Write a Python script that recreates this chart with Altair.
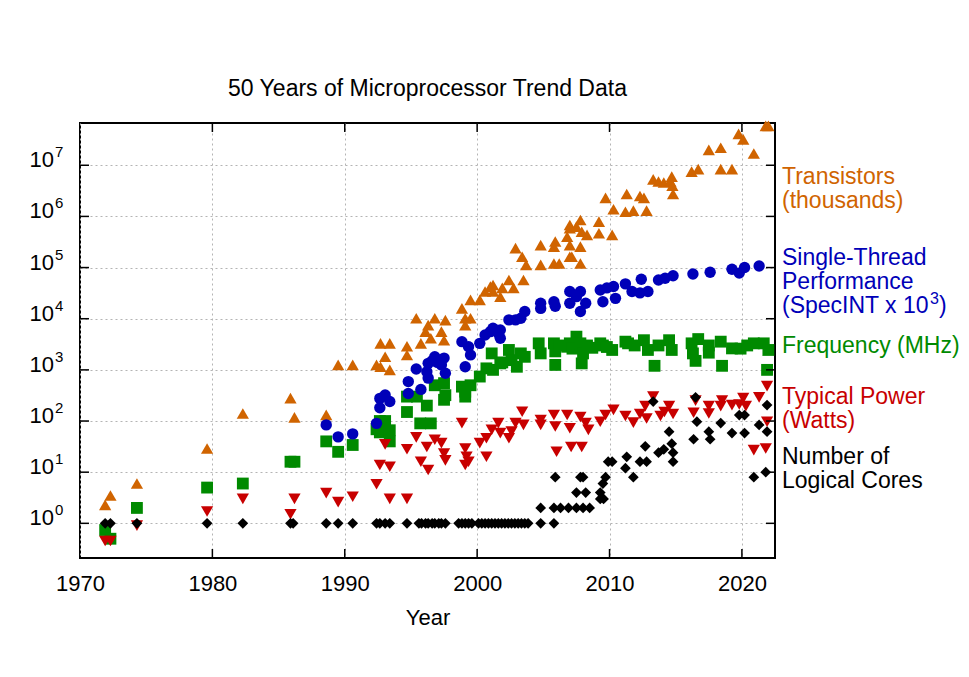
import altair as alt
import pandas as pd

FONT = "Liberation Sans"

# ---------------- data ----------------
tr_year = [1971.9, 1972.3, 1974.3, 1979.6, 1982.3, 1985.9, 1986.2, 1988.6, 1989.5, 1990.6,
           1992.4, 1992.7, 1992.7, 1993.05, 1993.4, 1993.4, 1994.7, 1994.7, 1995.4, 1995.75,
           1996.1, 1996.3, 1996.5, 1996.8, 1997.3, 1997.5, 1997.6, 1998.85, 1999.1, 1999.1,
           1999.5, 1999.5, 2000.2, 2000.6, 2001.0, 2001.2, 2001.2, 2001.75, 2001.9, 2002.4,
           2002.75, 2002.9, 2003.4, 2003.5, 2003.7, 2004.8, 2004.8, 2005.8, 2005.9, 2005.8,
           2006.2, 2006.8, 2007.0, 2007.0, 2007.0, 2007.0, 2007.15, 2007.5, 2007.8, 2007.8,
           2007.8, 2007.9, 2008.3, 2009.2, 2009.2, 2009.7, 2010.2, 2010.3, 2011.2, 2011.3,
           2011.8, 2012.3, 2012.6, 2012.8, 2013.3, 2013.7, 2014.1, 2014.6, 2014.7, 2014.75,
           2014.8, 2016.2, 2016.7, 2017.5, 2018.4, 2018.4, 2019.25, 2019.75, 2020.1, 2020.9,
           2021.8, 2022.0]
tr_val = [2.3, 3.5, 6.0, 29, 140, 280, 118, 132, 1250, 1250,
          1250, 3300, 1150, 1800, 3300, 1000, 2900, 1950, 10200, 3300,
          5600, 7500, 4150, 10200, 5600, 3800, 9400, 15900, 10200, 7500,
          10200, 23300, 23300, 34000, 42500, 34000, 45700, 27000, 40000, 57000,
          40000, 240000, 163000, 57000, 113000, 113000, 275000, 257000, 323000, 120000,
          120000, 400000, 275000, 163000, 590000, 680000, 163000, 630000, 257000, 120000,
          850000, 500000, 436000, 790000, 470000, 2300000, 436000, 1380000, 1230000, 2750000,
          1300000, 2500000, 2300000, 1300000, 5300000, 4800000, 4600000, 4800000, 6000000, 4000000,
          2750000, 7500000, 8400000, 20000000, 22000000, 8400000, 8400000, 41000000, 32000000, 17000000,
          59000000, 59000000]

st_year = [1988.6, 1989.5, 1990.6, 1992.4, 1992.65, 1992.65, 1993.05, 1993.4, 1994.8, 1994.8,
           1995.4, 1995.75, 1996.2, 1996.3, 1996.3, 1996.6, 1996.8, 1997.0, 1997.3, 1997.5,
           1997.6, 1998.85, 1999.35, 1999.5, 1999.1, 2000.2, 2000.6, 2001.0, 2001.2, 2001.6,
           2001.75, 2001.75, 2002.4, 2002.9, 2003.3, 2003.6, 2004.8, 2004.8, 2005.8, 2005.9,
           2007.0, 2007.0, 2007.5, 2007.8, 2008.2, 2007.8, 2009.3, 2009.5, 2009.8, 2010.3,
           2010.45, 2011.2, 2011.7, 2012.3, 2012.4, 2012.9, 2013.7, 2014.2, 2014.8, 2016.3,
           2017.6, 2019.25, 2019.8, 2020.2, 2021.3]
st_val = [84, 49, 56, 90, 182, 277, 323, 240, 590, 345,
          1040, 415, 920, 1340, 690, 1500, 1800, 1400, 1250, 1700,
          860, 3560, 2830, 1960, 1150, 3300, 4800, 5600, 6500, 5200,
          6000, 4150, 9500, 9500, 10200, 13800, 20000, 15900, 21500, 17500,
          34000, 20000, 27000, 34000, 20000, 13800, 36500, 21500, 40000, 42500,
          25000, 48000, 34000, 32000, 59000, 34000, 57000, 62000, 69000, 75000,
          81000, 93000, 78000, 100000, 107000]

fr_year = [1971.9, 1972.3, 1974.3, 1979.6, 1982.3, 1985.9, 1986.2, 1988.6, 1989.5, 1990.6,
           1992.4, 1992.65, 1992.65, 1993.05, 1993.4, 1993.4, 1994.7, 1994.7, 1995.45, 1996.2,
           1995.7, 1996.5, 1996.8, 1997.5, 1997.5, 1997.6, 1998.85, 1999.1, 1999.1, 1999.5,
           2000.2, 2000.7, 2001.1, 2001.2, 2001.75, 2001.9, 2002.4, 2002.6, 2003.0, 2003.3,
           2003.6, 2004.65, 2004.8, 2005.8, 2005.9, 2005.9, 2006.2, 2006.8, 2007.0, 2007.2,
           2007.5, 2007.8, 2007.9, 2008.0, 2008.3, 2008.7, 2009.3, 2009.5, 2009.8, 2010.2,
           2011.2, 2011.4, 2011.9, 2012.6, 2012.9, 2013.4, 2013.7, 2014.5, 2014.7, 2016.2,
           2016.3, 2016.5, 2016.7, 2017.5, 2017.5, 2018.4, 2018.5, 2019.25, 2019.9, 2020.4,
           2020.9, 2021.65, 2022.0, 2021.9]
fr_val = [0.74, 0.5, 2, 5, 6, 16, 16, 40, 25, 34,
          69, 100, 60, 100, 66, 40, 300, 150, 300, 200,
          90, 90, 500, 550, 260, 320, 470, 300, 375, 500,
          740, 1070, 2100, 1000, 1340, 1400, 2450, 1550, 1150, 2100,
          1800, 3300, 2100, 3300, 2300, 1250, 3000, 2830, 3300, 2600,
          4460, 3300, 1340, 2100, 3000, 2700, 3300, 3000, 2800, 2450,
          3560, 3300, 3000, 3800, 2450, 1200, 3000, 3800, 2450, 3300,
          2100, 1500, 4000, 2170, 3000, 3560, 1200, 2630, 2600, 3000,
          3300, 3300, 2450, 1000]

pw_year = [1971.9, 1972.3, 1974.3, 1979.6, 1982.3, 1985.9, 1986.2, 1988.6, 1989.5, 1990.6,
           1992.4, 1992.65, 1993.05, 1993.4, 1993.4, 1994.7, 1994.7, 1995.4, 1995.75, 1996.2,
           1996.3, 1996.8, 1997.3, 1997.5, 1997.6, 1998.85, 1999.1, 1999.2, 1999.35, 1999.1,
           2000.2, 2000.7, 2000.7, 2001.1, 2001.6, 2001.75, 2002.4, 2002.6, 2002.9, 2003.4,
           2003.5, 2004.8, 2004.8, 2005.8, 2005.9, 2006.0, 2006.8, 2007.0, 2007.1, 2007.8,
           2007.9, 2008.2, 2008.4, 2009.3, 2009.7, 2010.3, 2011.2, 2011.8, 2012.3, 2012.7,
           2012.8, 2013.3, 2013.85, 2014.15, 2014.5, 2014.8, 2016.35, 2016.5, 2017.5, 2017.5,
           2018.4, 2018.5, 2019.25, 2019.8, 2020.1, 2020.3, 2020.9, 2021.3, 2021.8, 2021.9,
           2021.9]
pw_val = [0.45, 0.45, 0.9, 1.7, 3, 1.5, 3, 3.9, 2.6, 3.3,
          5.8, 13.8, 35, 12.8, 3, 28, 3, 48, 16, 31,
          11, 43, 37, 23, 17, 91, 29, 20, 16, 13.8,
          37, 20, 46, 67, 91, 58, 46, 62, 91, 152,
          84, 105, 84, 131, 78, 25, 131, 72, 31, 120,
          31, 91, 67, 97, 131, 165, 125, 93, 137, 196,
          112, 300, 125, 150, 196, 137, 145, 250, 196, 140,
          196, 250, 205, 210, 280, 196, 27, 290, 29, 480,
          97]

co_year = [1971.9, 1972.3, 1974.3, 1979.6, 1982.3, 1985.9, 1986.1, 1988.6, 1989.5, 1990.6,
           1992.4, 1992.65, 1993.05, 1993.4, 1994.7, 1995.6, 1995.8, 1996.1, 1996.3, 1996.6,
           1996.8, 1997.1, 1997.3, 1997.6, 1998.6, 1998.85, 1999.1, 1999.35, 1999.6, 2000.1,
           2000.35, 2000.6, 2000.85, 2001.1, 2001.35, 2001.6, 2001.85, 2002.1, 2002.35, 2002.6,
           2002.85, 2003.1, 2003.35, 2003.6, 2003.85, 2004.8, 2005.8,
           2004.8, 2005.8, 2006.3, 2006.9, 2007.5, 2008.0, 2008.5,
           2007.5, 2008.2, 2009.3, 2005.9, 2007.8, 2008.0, 2009.7, 2009.3, 2009.55, 2009.5,
           2009.9, 2010.2, 2011.2, 2011.3, 2011.8, 2012.3, 2012.8, 2012.7, 2013.3, 2013.7,
           2014.8, 2014.1, 2014.5, 2014.7, 2014.8, 2016.35, 2016.6, 2016.5, 2017.5, 2017.6,
           2018.4, 2019.25, 2019.8, 2020.2, 2020.2, 2020.9, 2021.3, 2021.8, 2021.9, 2021.9]
co_val = [1, 1, 1, 1, 1, 1, 1, 1, 1, 1,
          1, 1, 1, 1, 1, 1, 1, 1, 1, 1,
          1, 1, 1, 1, 1, 1, 1, 1, 1, 1,
          1, 1, 1, 1, 1, 1, 1, 1, 1, 1,
          1, 1, 1, 1, 1, 1, 1,
          2, 2, 2, 2, 2, 2, 2,
          4, 4, 4, 8, 8, 8, 8, 3, 3, 6,
          16, 16, 12, 20, 8, 16, 16, 32, 240, 24,
          24, 28, 62, 36, 16, 44, 97, 290, 62, 44,
          91, 58, 131, 131, 58, 8, 84, 10, 205, 62]

y_ticks = [1, 10, 100, 1000, 10000, 100000, 1000000, 10000000]
y_exponents = ["0", "1", "2", "3", "4", "5", "6", "7"]
x_ticks = [1970, 1980, 1990, 2000, 2010, 2020]

series = [
    ("Transistors", tr_year, tr_val, "triangle-up", "#d06400", 150),
    ("Frequency", fr_year, fr_val, "square", "#008a00", 140),
    ("Single-Thread", st_year, st_val, "circle", "#0000b8", 130),
    ("Power", pw_year, pw_val, "triangle-down", "#c80000", 150),
    ("Cores", co_year, co_val, "diamond", "#000000", 115),
]

W, H = 695, 435

xscale = alt.Scale(domain=[1970, 2022.5], nice=False, zero=False)
yscale = alt.Scale(type="log", domain=[0.21, 6.7e7], nice=False)

xaxis = alt.Axis(values=x_ticks, title="Year", format="d", grid=True, ticks=False,
                 tickSize=0, domain=False, labelFontSize=22, labelPadding=15,
                 labelFlush=False, titleFontSize=22, titleFontWeight="normal", titlePadding=13,
                 labelFont=FONT, titleFont=FONT, labelColor="black", titleColor="black",
                 gridColor="#b4b4b4", gridDash=[2, 3], gridWidth=1)
yaxis = alt.Axis(values=y_ticks, title=None, grid=True, ticks=False, tickSize=0, domain=False,
                 labels=False, gridColor="#b4b4b4", gridDash=[2, 3], gridWidth=1)

X = lambda: alt.X("Year:Q", scale=xscale, axis=xaxis)
Y = lambda: alt.Y("Value:Q", scale=yscale, axis=yaxis)

layers = []
for name, yrs, vals, shape, color, size in series:
    df = pd.DataFrame({"Year": yrs, "Value": vals})
    layers.append(
        alt.Chart(df).mark_point(shape=shape, filled=True, size=size, color=color,
                                 opacity=1, strokeWidth=0).encode(x=X(), y=Y())
    )

# inward tick marks on all four sides
ydf = pd.DataFrame({"Value": y_ticks, "exp": y_exponents})
xdf = pd.DataFrame({"Year": x_ticks[1:]})
for x0, x1 in [(0, 9), (W - 9, W)]:
    layers.append(alt.Chart(ydf).mark_rule(color="black", strokeWidth=1.5).encode(
        y=Y(), x=alt.value(x0), x2=alt.value(x1)))
for y0, y1 in [(H - 9, H), (0, 9)]:
    layers.append(alt.Chart(xdf).mark_rule(color="black", strokeWidth=1.5).encode(
        x=X(), y=alt.value(y0), y2=alt.value(y1)))

# y tick labels as 10 with a raised exponent
layers.append(alt.Chart(ydf).transform_calculate(base="'10'").mark_text(
    align="right", baseline="middle", fontSize=22, font=FONT, color="black", dy=-5
).encode(y=Y(), x=alt.value(-26), text="base:N"))
layers.append(alt.Chart(ydf).mark_text(
    align="left", baseline="middle", fontSize=15, font=FONT, color="black", dy=-13
).encode(y=Y(), x=alt.value(-25), text="exp:N"))

# right-hand labels
labels = [
    ("Transistors", "#d06400", 54, 7, 23), ("(thousands)", "#d06400", 78, 7, 23),
    ("Single-Thread", "#0000b8", 135, 7, 23), ("Performance", "#0000b8", 159, 7, 23),
    ("(SpecINT x 10", "#0000b8", 183, 7, 23), ("3", "#0000b8", 176, 155, 16),
    (")", "#0000b8", 183, 164, 23),
    ("Frequency (MHz)", "#008a00", 223, 7, 23),
    ("Typical Power", "#c80000", 274, 7, 23), ("(Watts)", "#c80000", 298, 7, 23),
    ("Number of", "#000000", 334, 7, 23), ("Logical Cores", "#000000", 358, 7, 23),
]
for txt, col, ypix, xoff, fs in labels:
    layers.append(alt.Chart(pd.DataFrame({"t": [txt]})).mark_text(
        align="left", baseline="middle", fontSize=fs, font=FONT, color=col
    ).encode(text="t:N", x=alt.value(W + xoff), y=alt.value(ypix)))

chart = alt.layer(*layers).properties(
    width=W, height=H,
    title=alt.TitleParams("50 Years of Microprocessor Trend Data", fontSize=23, font=FONT,
                          fontWeight="normal", anchor="middle", offset=20, color="black"),
    autosize=alt.AutoSizeParams(type="none"),
    padding={"left": 80, "top": 123, "right": 194, "bottom": 119},
    background="white",
).configure_view(stroke="black", strokeWidth=2)

chart.save("out.html", embed_options={"renderer": "svg", "actions": False})
